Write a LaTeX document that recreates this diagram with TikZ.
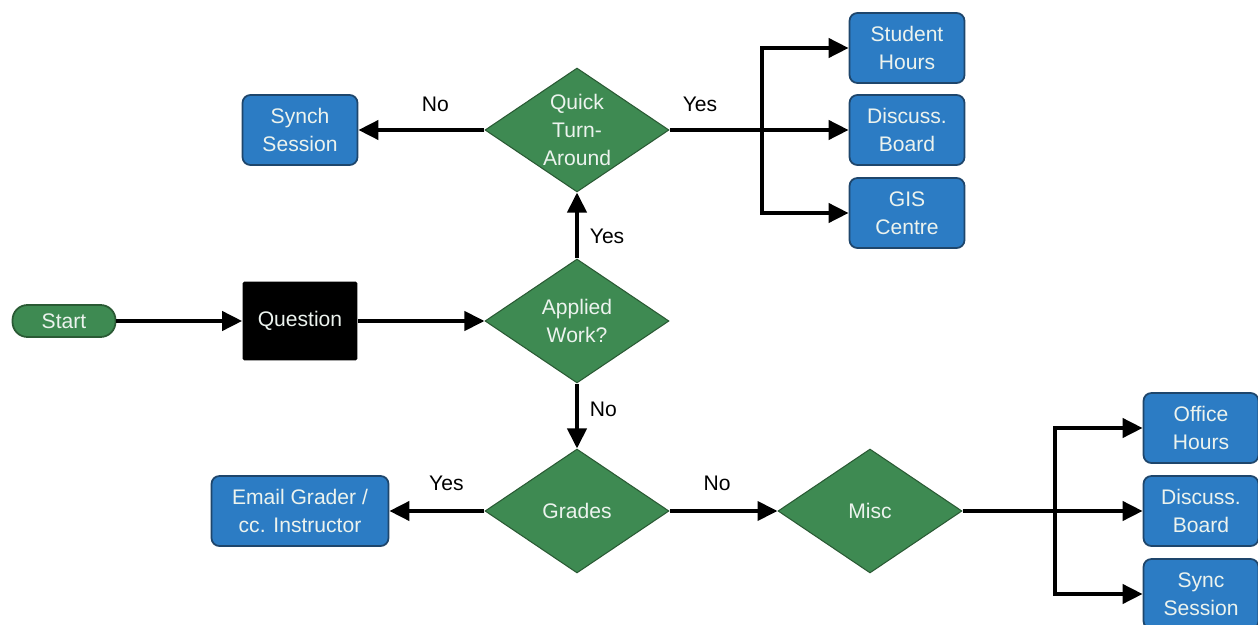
\documentclass[tikz,border=0pt]{standalone}
\usepackage{fontspec}
\setmainfont{Liberation Sans}
\usetikzlibrary{shapes.geometric,arrows.meta}
\definecolor{boxblue}{RGB}{44,124,196}
\definecolor{boxedge}{RGB}{30,70,108}
\definecolor{dgreen}{RGB}{62,138,82}
\definecolor{dgreenedge}{RGB}{42,90,52}
\definecolor{paletext}{RGB}{236,243,238}
\begin{document}
\begin{tikzpicture}[x=0.02cm,y=-0.02cm,
    font=\fontsize{12}{16}\selectfont,
    startbox/.style={draw=dgreenedge,fill=dgreen,text=paletext,line width=1pt,
      rounded corners=8.5pt,minimum width=2.06cm,minimum height=0.64cm},
    qbox/.style={fill=black,text=paletext,rounded corners=1pt,
      minimum width=2.3cm,minimum height=1.58cm},
    choice/.style={diamond,aspect=1.5,draw=dgreenedge,fill=dgreen,text=paletext,align=center,
      line width=0.6pt,inner sep=0pt,minimum width=3.68cm,minimum height=2.48cm},
    optbox/.style={draw=boxedge,fill=boxblue,text=paletext,align=center,line width=1pt,
      rounded corners=4.5pt,minimum width=2.3cm,minimum height=1.4cm},
    flow/.style={line width=0.08cm,-{Triangle[length=0.4cm,width=0.38cm]}}]
  \useasboundingbox (0,0) rectangle (1258,625);
  \draw
    (64,321) node[startbox] (start) {Start}
    (300,321) node[qbox] (quest) {Question}
    (577,321) node[choice] (applied) {Applied\\Work?}
    (577,130) node[choice] (quick) {Quick\\Turn-\\Around}
    (300,130) node[optbox] (synch) {Synch\\Session}
    (907,48) node[optbox] (hours) {Student\\Hours}
    (907,130) node[optbox] (board) {Discuss.\\Board}
    (907,213) node[optbox] (gis) {GIS\\Centre}
    (577,511) node[choice] (grades) {Grades}
    (870,511) node[choice] (misc) {Misc}
    (300,511) node[optbox,minimum width=3.54cm] (email) {Email Grader /\\cc. Instructor}
    (1201,428) node[optbox] (office) {Office\\Hours}
    (1201,511) node[optbox] (board2) {Discuss.\\Board}
    (1201,594) node[optbox] (sync) {Sync\\Session};
  \coordinate (topfork) at (762,130);
  \coordinate (lowfork) at (1055,511);
  \begin{scope}[flow]
    \draw (start) to (quest);
    \draw (quest) to (applied);
    \draw (applied) to node[pos=0.33,right=1mm] {Yes} (quick);
    \draw (applied) to node[pos=0.4,right=1mm] {No} (grades);
    \draw (quick) to node[pos=0.39,above=2mm] {No} (synch);
    \draw (quick) to node[pos=0.17,above=2mm] {Yes} (board);
    \draw (topfork) |- (hours);
    \draw (topfork) |- (gis);
    \draw (grades) to node[pos=0.4,above=2.5mm] {Yes} (email);
    \draw (grades) to node[pos=0.44,above=2.5mm] {No} (misc);
    \draw (misc) to (board2);
    \draw (lowfork) |- (office);
    \draw (lowfork) |- (sync);
  \end{scope}
\end{tikzpicture}
\end{document}
